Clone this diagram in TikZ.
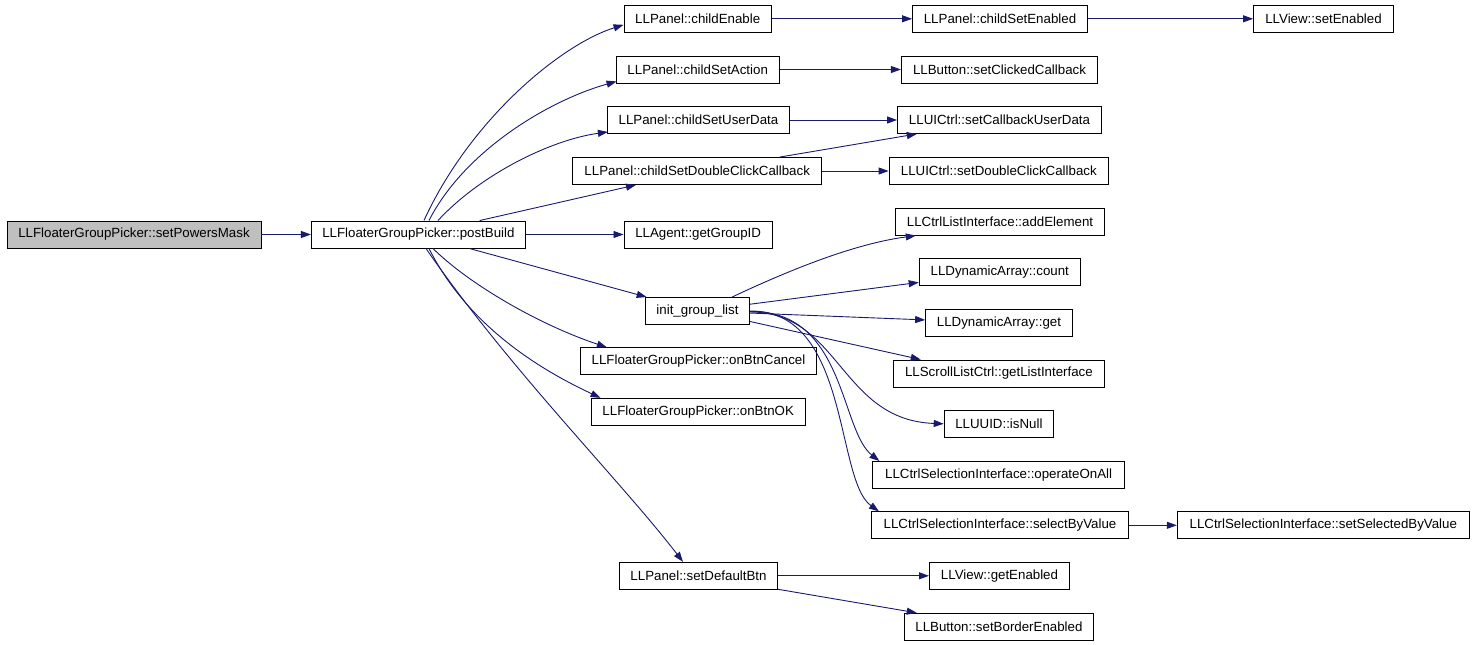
\documentclass[tikz,border=0pt]{standalone}
\usepackage{fontspec}
\setmainfont{Liberation Sans}
\usetikzlibrary{arrows.meta}
\definecolor{mblue}{HTML}{191970}
\definecolor{gfill}{HTML}{BFBFBF}
\begin{document}
\begin{tikzpicture}[x=1pt,y=-1pt,
  box/.style={draw=black, line width=0.9pt, inner sep=0pt, minimum height=27pt,
    font=\fontsize{13.3}{16}\selectfont, text=black},
  edge/.style={draw=mblue, line width=0.9pt, -{Triangle[length=10pt,width=7pt]}}]
\useasboundingbox (0,0) rectangle (1475,645);
% nodes
\node[box, fill=gfill, minimum width=254pt] (spm) at (134,234.5) {LLFloaterGroupPicker::setPowersMask};
\node[box, minimum width=214pt] (pb) at (418.4,234.5) {LLFloaterGroupPicker::postBuild};
\node[box, minimum width=147.4pt] (ce) at (697.7,18.8) {LLPanel::childEnable};
\node[box, minimum width=175pt] (cse) at (1000,18.8) {LLPanel::childSetEnabled};
\node[box, minimum width=140pt] (ve) at (1323.5,18.8) {LLView::setEnabled};
\node[box, minimum width=163.4pt] (csa) at (697.7,69.5) {LLPanel::childSetAction};
\node[box, minimum width=196.4pt] (bscc) at (999.5,69.5) {LLButton::setClickedCallback};
\node[box, minimum width=182.3pt] (csud) at (698.5,120) {LLPanel::childSetUserData};
\node[box, minimum width=204pt] (scud) at (999.5,120) {LLUICtrl::setCallbackUserData};
\node[box, minimum width=248.7pt] (csdc) at (697.2,171) {LLPanel::childSetDoubleClickCallback};
\node[box, minimum width=219.4pt] (sdcc) at (998.8,171) {LLUICtrl::setDoubleClickCallback};
\node[box, minimum width=209.5pt] (ae) at (1000,221.7) {LLCtrlListInterface::addElement};
\node[box, minimum width=148.3pt] (ggid) at (698.1,234.5) {LLAgent::getGroupID};
\node[box, minimum width=161.3pt] (cnt) at (999.8,272) {LLDynamicArray::count};
\node[box, minimum width=104.3pt] (igl) at (697.5,311) {init\_group\_list};
\node[box, minimum width=146.8pt] (get) at (999,322.8) {LLDynamicArray::get};
\node[box, minimum width=236.4pt] (obc) at (698.5,361.3) {LLFloaterGroupPicker::onBtnCancel};
\node[box, minimum width=211.4pt] (gli) at (998.9,373.5) {LLScrollListCtrl::getListInterface};
\node[box, minimum width=214.3pt] (obo) at (698.2,411.8) {LLFloaterGroupPicker::onBtnOK};
\node[box, minimum width=109.5pt] (isn) at (998.9,423.8) {LLUUID::isNull};
\node[box, minimum width=251.5pt] (ooa) at (998.6,475) {LLCtrlSelectionInterface::operateOnAll};
\node[box, minimum width=257.2pt] (sbv) at (1000,525.3) {LLCtrlSelectionInterface::selectByValue};
\node[box, minimum width=292pt] (ssbv) at (1323.3,525.3) {LLCtrlSelectionInterface::setSelectedByValue};
\node[box, minimum width=158.1pt] (sdb) at (698.5,575.8) {LLPanel::setDefaultBtn};
\node[box, minimum width=140.1pt] (ge) at (999.5,575.8) {LLView::getEnabled};
\node[box, minimum width=188.8pt] (bbe) at (998.9,626.8) {LLButton::setBorderEnabled};
% edges
\draw[edge] (spm) -- (pb);
\draw[edge] ([xshift=113pt]pb.north west) .. controls (470,120) and (560,45) .. ([yshift=-6pt]ce.west);
\draw[edge] ([xshift=118pt]pb.north west) .. controls (465,150) and (550,100) .. ([xshift=1pt,yshift=2pt]csa.south west);
\draw[edge] ([xshift=127pt]pb.north west) .. controls (480,175) and (550,140) .. ([xshift=1pt,yshift=2pt]csud.south west);
\draw[edge] (pb) -- (csdc);
\draw[edge] (pb) -- (ggid);
\draw[edge] (pb) -- (igl);
\draw[edge] ([xshift=122pt]pb.south west) .. controls (470,285) and (540,325) .. ([xshift=27pt]obc.north west);
\draw[edge] ([xshift=118pt]pb.south west) .. controls (465,320) and (530,365) .. ([xshift=10pt]obo.north west);
\draw[edge] ([xshift=115pt]pb.south west) .. controls (510,370) and (620,480) .. ([xshift=64pt]sdb.north west);
\draw[edge] (ce) -- (cse);
\draw[edge] (cse) -- (ve);
\draw[edge] (csa) -- (bscc);
\draw[edge] (csud) -- (scud);
\draw[edge] (csdc) -- (scud);
\draw[edge] (csdc) -- (sdcc);
\draw[edge] ([xshift=-18pt]igl.north east) .. controls (800,265) and (860,243) .. ([xshift=21pt]ae.south west);
\draw[edge] (igl) -- (cnt);
\draw[edge] (igl) -- (get);
\draw[edge] ([yshift=-10.5pt]igl.east) -- ([xshift=28pt]gli.north west);
\draw[edge] ([yshift=-1pt]igl.east) .. controls (840,312) and (840,420) .. (isn.west);
\draw[edge] ([yshift=-0.5pt]igl.east) .. controls (845,310) and (840,430) .. ([xshift=7pt]ooa.north west);
\draw[edge] (igl.east) .. controls (850,310) and (835,480) .. ([xshift=8pt]sbv.north west);
\draw[edge] (sbv) -- (ssbv);
\draw[edge] (sdb) -- (ge);
\draw[edge] (sdb) -- (bbe);
\end{tikzpicture}
\end{document}
